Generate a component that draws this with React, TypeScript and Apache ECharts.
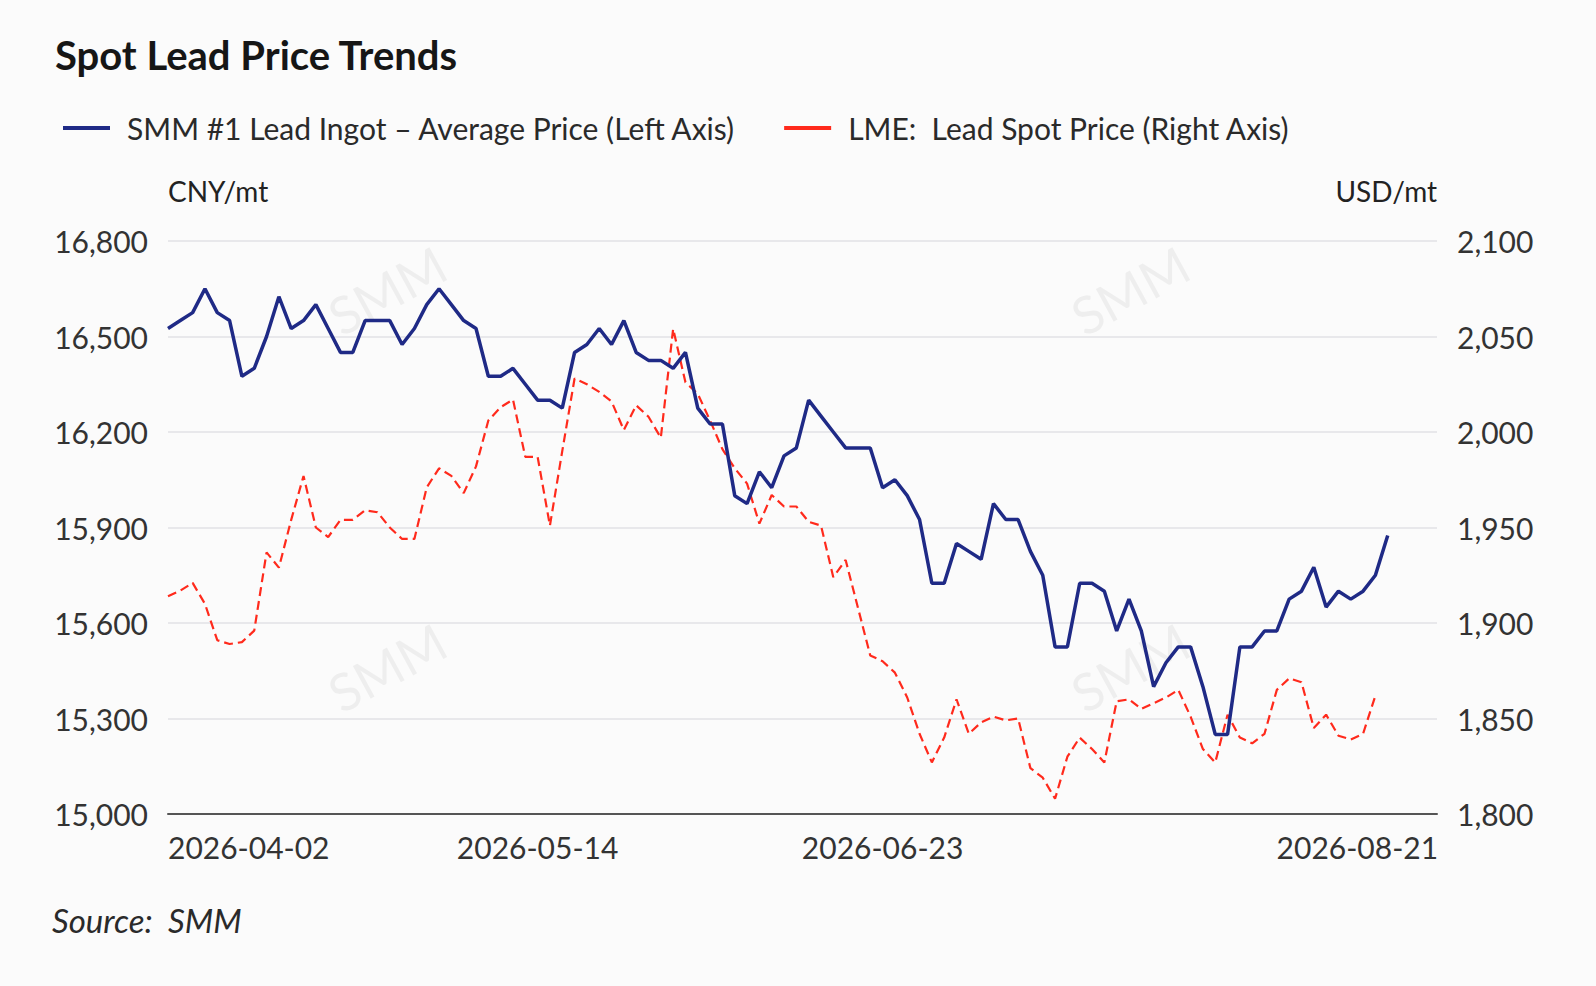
import { useEffect, useRef } from 'react';

import * as echarts from 'echarts';

// business days shown on the category axis
const startDate = '2026-04-02';
const endDate = '2026-08-21';
const labelDates = ['2026-04-02', '2026-05-14', '2026-06-23', '2026-08-21'];

// SMM #1 lead ingot average price, CNY/mt (left axis)
const smmLead = [
    16525, 16550, 16575, 16650, 16575, 16550, 16375, 16400, 16500, 16625,
    16525, 16550, 16600, 16525, 16450, 16450, 16550, 16550, 16550, 16475,
    16525, 16600, 16650, 16600, 16550, 16525, 16375, 16375, 16400, 16350,
    16300, 16300, 16275, 16450, 16475, 16525, 16475, 16550, 16450, 16425,
    16425, 16400, 16450, 16275, 16225, 16225, 16000, 15975, 16075, 16025,
    16125, 16150, 16300, 16250, 16200, 16150, 16150, 16150, 16025, 16050,
    16000, 15925, 15725, 15725, 15850, 15825, 15800, 15975, 15925, 15925,
    15825, 15750, 15525, 15525, 15725, 15725, 15700, 15575, 15675, 15575,
    15400, 15475, 15525, 15525, 15400, 15250, 15250, 15525, 15525, 15575,
    15575, 15675, 15700, 15775, 15650, 15700, 15675, 15700, 15750, 15875,
];

// LME lead spot price, USD/mt (right axis)
const lmeLead = [
    1914, 1917, 1921, 1910, 1891, 1889, 1890, 1896, 1937, 1929,
    1954, 1977, 1950, 1945, 1954, 1954, 1959, 1958, 1950, 1944,
    1944, 1971, 1981, 1977, 1968, 1982, 2006, 2013, 2017, 1987,
    1987, 1951, 1990, 2028, 2025, 2021, 2016, 2001, 2014, 2008,
    1997, 2054, 2026, 2020, 2006, 1991, 1981, 1973, 1952, 1967,
    1961, 1961, 1953, 1951, 1924, 1933, 1908, 1883, 1880, 1874,
    1861, 1842, 1827, 1840, 1860, 1842, 1848, 1851, 1849, 1850,
    1824, 1819, 1808, 1830, 1840, 1834, 1827, 1859, 1860, 1855,
    1858, 1861, 1865, 1851, 1834, 1827, 1852, 1840, 1837, 1842,
    1865, 1871, 1869, 1845, 1852, 1841, 1839, 1842, 1862,
];

const seriesNames = ['SMM #1 Lead Ingot – Average Price (Left Axis)', 'LME:  Lead Spot Price (Right Axis)'];

const weekdays = (from: string, to: string) => {
    const out: string[] = [];
    const d = new Date(from + 'T00:00:00Z');
    const end = new Date(to + 'T00:00:00Z');
    while (d <= end) {
        const wd = d.getUTCDay();
        if (wd !== 0 && wd !== 6) out.push(d.toISOString().slice(0, 10));
        d.setUTCDate(d.getUTCDate() + 1);
    }
    return out;
};

const dates = weekdays(startDate, endDate);
const lastDate = labelDates[labelDates.length - 1];

const FONT = 'Lato, "Noto Sans", sans-serif';
const BLUE = '#1f2a86';
const RED = '#ff2a1c';
const fmt = (v: number) => v.toLocaleString('en-US');

const App = () => {
    const chartRef = useRef<HTMLDivElement | null>(null);

    useEffect(() => {
        const myChart = echarts.init(chartRef.current!, null, { renderer: 'svg' });

        const watermark = (x: number, y: number) => ({
            type: 'text',
            x,
            y,
            rotation: 0.5,
            silent: true,
            style: {
                text: 'SMM',
                fontSize: 52,
                fontFamily: FONT,
                fill: 'rgba(0,0,0,0.05)',
                align: 'center',
                verticalAlign: 'middle',
            },
        });

        const option: echarts.EChartsOption = {
            animation: false,
            backgroundColor: '#fbfbfb',
            textStyle: { fontFamily: FONT },
            title: {
                text: 'Spot Lead Price Trends',
                left: 50,
                top: 30,
                textStyle: { fontSize: 40, fontWeight: 'bold', color: '#161616', fontFamily: FONT },
            },
            legend: {
                left: 58,
                top: 108,
                itemWidth: 47,
                itemHeight: 4,
                itemGap: 48,
                textStyle: { fontSize: 30, color: '#2a2a2a', padding: [0, 0, 0, 12] },
                data: [
                    { name: seriesNames[0], icon: 'rect', itemStyle: { color: BLUE } },
                    { name: seriesNames[1], icon: 'rect', itemStyle: { color: RED } },
                ],
            },
            grid: { left: 168, right: 159, top: 241, bottom: 172 },
            xAxis: {
                type: 'category',
                data: dates,
                boundaryGap: false,
                min: 0,
                max: dates.length + 1,
                axisLine: { lineStyle: { color: '#555', width: 2 } },
                axisTick: { show: false },
                axisLabel: {
                    fontSize: 30,
                    color: '#333',
                    margin: 18,
                    interval: (_i: number, v: string) => labelDates.includes(v),
                    alignMinLabel: 'left',
                    formatter: (v: string) => (v === lastDate ? `{last|${v}}` : v),
                    rich: {
                        last: { fontSize: 30, color: '#333', fontFamily: FONT, padding: [0, 110, 0, 0] },
                    },
                },
            },
            yAxis: [
                {
                    type: 'value',
                    min: 15000,
                    max: 16800,
                    interval: 300,
                    name: 'CNY/mt',
                    nameGap: 50,
                    nameTextStyle: { fontSize: 28, color: '#222', align: 'left', verticalAlign: 'middle' },
                    axisLine: { show: false },
                    axisTick: { show: false },
                    axisLabel: { fontSize: 30, color: '#333', margin: 20, formatter: fmt },
                    splitLine: { lineStyle: { color: '#e2e2e6', width: 1.5 } },
                },
                {
                    type: 'value',
                    min: 1800,
                    max: 2100,
                    interval: 50,
                    name: 'USD/mt',
                    nameGap: 50,
                    nameTextStyle: { fontSize: 28, color: '#222', align: 'right', verticalAlign: 'middle' },
                    axisLine: { show: false },
                    axisTick: { show: false },
                    axisLabel: { fontSize: 30, color: '#333', margin: 20, formatter: fmt },
                    splitLine: { show: false },
                },
            ],
            series: [
                {
                    name: seriesNames[0],
                    type: 'line',
                    yAxisIndex: 0,
                    data: smmLead,
                    showSymbol: false,
                    lineStyle: { color: BLUE, width: 3.5 },
                    itemStyle: { color: BLUE },
                    z: 3,
                },
                {
                    name: seriesNames[1],
                    type: 'line',
                    yAxisIndex: 1,
                    data: lmeLead,
                    showSymbol: false,
                    lineStyle: { color: RED, width: 2.2, type: [9, 5] },
                    itemStyle: { color: RED },
                    z: 2,
                },
            ],
            graphic: [
                watermark(387, 290),
                watermark(1130, 290),
                watermark(387, 667),
                watermark(1130, 667),
                {
                    type: 'text',
                    left: 52,
                    top: 903,
                    style: {
                        text: 'Source:  SMM',
                        fontSize: 33,
                        fontStyle: 'italic',
                        fontFamily: FONT,
                        fill: '#2a2a2a',
                    },
                },
            ],
        };

        myChart.setOption(option);

        return () => {
            myChart.dispose();
        };
    }, []);

    return <div ref={chartRef} style={{ position: 'fixed', left: 0, top: 0, width: 1596, height: 986 }} />;
};

export default App;
